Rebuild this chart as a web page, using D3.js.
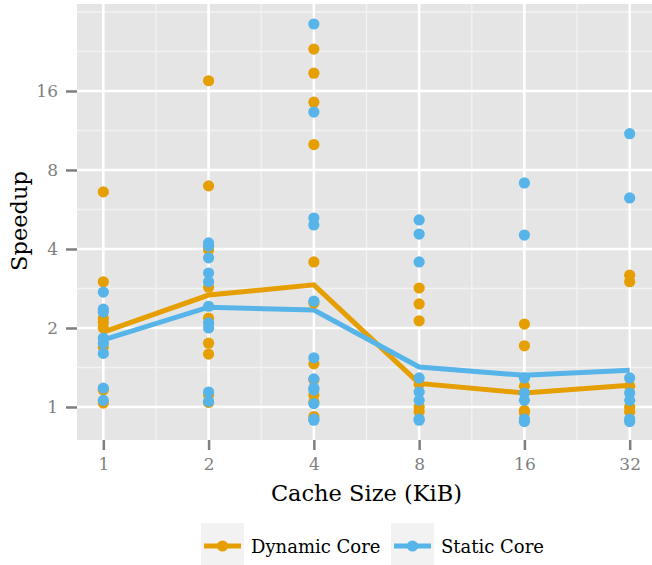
<!DOCTYPE html>
<html>
<head>
<meta charset="utf-8">
<script src="https://cdn.jsdelivr.net/npm/d3@7"></script>
<style>
  body { margin: 0; background: #fff; }
  svg text { font-family: "DejaVu Serif", "Liberation Serif", "DejaVu Sans", sans-serif !important; }
</style>
</head>
<body>
<div id="chart"></div>
<script>
// cache sizes (KiB) on the x axis
var cacheSizes = [1, 2, 4, 8, 16, 32];
var yTicks = [1, 2, 4, 8, 16];

// per-benchmark speedups, one list per cache size
var dynamicSpeedup = [
  [6.6, 3.0, 2.18, 2.1, 2.0, 1.69, 1.16, 1.035],
  [17.5, 6.96, 3.97, 2.86, 2.18, 1.75, 1.59, 1.11, 1.04],
  [23.1, 18.7, 14.5, 10.0, 3.57, 2.49, 1.46, 1.27, 1.11, 1.045, 0.92],
  [2.84, 2.47, 2.13, 1.22, 1.0, 0.96],
  [2.07, 1.71, 1.2, 0.97, 0.95],
  [3.18, 3.0, 1.2, 1.0, 0.96]
];
var staticSpeedup = [
  [2.74, 2.36, 2.3, 1.83, 1.75, 1.6, 1.18, 1.06],
  [4.22, 4.1, 3.7, 3.24, 3.0, 2.42, 2.09, 2.0, 1.14, 1.05],
  [28.8, 13.3, 5.25, 4.94, 2.53, 1.54, 1.28, 1.18, 1.16, 1.03, 0.9, 0.89],
  [5.16, 4.56, 3.57, 1.29, 1.14, 1.06, 0.9, 0.89],
  [7.14, 4.52, 1.29, 1.13, 1.06, 0.9, 0.88],
  [11.0, 6.26, 1.29, 1.13, 1.06, 0.9, 0.88]
];

// average lines
var dynamicMean = [1.93, 2.67, 2.92, 1.23, 1.13, 1.21];
var staticMean = [1.8, 2.4, 2.34, 1.42, 1.32, 1.38];

var seriesNames = ["Dynamic Core", "Static Core"];
var colours = ["#E69F00", "#56B4E9"];

var W = 652, H = 565;
var panel = {left: 77, top: 4, right: 656, bottom: 440};

var svg = d3.select("#chart").append("svg")
    .attr("width", W)
    .attr("height", H);

var x = d3.scaleLog().base(2)
    .domain([Math.pow(2, -0.25), Math.pow(2, 5.25)])
    .range([panel.left, panel.right]);

var y = d3.scaleLog().base(2)
    .domain([Math.pow(2, -0.418), Math.pow(2, 5.101)])
    .range([panel.bottom, panel.top]);

/***** panel background + grid ******/
svg.append("rect")
   .attr("x", panel.left).attr("y", panel.top)
   .attr("width", panel.right - panel.left)
   .attr("height", panel.bottom - panel.top)
   .attr("fill", "#E5E5E5");

var xMinor = [0.5, 1.5, 2.5, 3.5, 4.5].map(function(e) { return Math.pow(2, e); });
var yMinor = [0.5, 1.5, 2.5, 3.5, 4.5, 5].map(function(e) { return Math.pow(2, e); });

var grid = svg.append("g");
grid.selectAll(".xminor").data(xMinor).enter().append("line")
    .attr("x1", x).attr("x2", x)
    .attr("y1", panel.top).attr("y2", panel.bottom)
    .attr("stroke", "#F2F2F2").attr("stroke-width", 1.3);
grid.selectAll(".yminor").data(yMinor).enter().append("line")
    .attr("y1", y).attr("y2", y)
    .attr("x1", panel.left).attr("x2", panel.right)
    .attr("stroke", "#F2F2F2").attr("stroke-width", 1.3);
grid.selectAll(".xmajor").data(cacheSizes).enter().append("line")
    .attr("x1", x).attr("x2", x)
    .attr("y1", panel.top).attr("y2", panel.bottom)
    .attr("stroke", "#fff").attr("stroke-width", 2.6);
grid.selectAll(".ymajor").data(yTicks).enter().append("line")
    .attr("y1", y).attr("y2", y)
    .attr("x1", panel.left).attr("x2", panel.right)
    .attr("stroke", "#fff").attr("stroke-width", 2.6);

/***** axes ******/
var xAxis = svg.append("g")
    .attr("transform", "translate(0," + panel.bottom + ")")
    .call(d3.axisBottom(x).tickValues(cacheSizes).tickFormat(d3.format("d"))
            .tickSize(10).tickPadding(8));
var yAxis = svg.append("g")
    .attr("transform", "translate(" + panel.left + ",0)")
    .call(d3.axisLeft(y).tickValues(yTicks).tickFormat(d3.format("d"))
            .tickSize(11).tickPadding(8));

[xAxis, yAxis].forEach(function(a) {
  a.attr("font-family", null);
  a.select(".domain").remove();
  a.selectAll(".tick line").attr("stroke", "#7F7F7F").attr("stroke-width", 2.5);
  a.selectAll(".tick text")
   .attr("fill", "#7F7F7F")
   .style("font-size", "17px");
});

svg.append("text")
   .attr("x", (panel.left + panel.right) / 2)
   .attr("y", 501)
   .attr("text-anchor", "middle")
   .style("font-size", "22.5px")
   .attr("fill", "#000")
   .text("Cache Size (KiB)");

svg.append("text")
   .attr("transform", "translate(27,221) rotate(-90)")
   .attr("text-anchor", "middle")
   .style("font-size", "22.5px")
   .attr("fill", "#000")
   .text("Speedup");

/***** mean lines ******/
var line = d3.line()
    .x(function(d, i) { return x(cacheSizes[i]); })
    .y(function(d) { return y(d); });

var means = [dynamicMean, staticMean];
svg.selectAll(".meanline").data(means).enter().append("path")
   .attr("class", "meanline")
   .attr("d", line)
   .attr("fill", "none")
   .attr("stroke", function(d, i) { return colours[i]; })
   .attr("stroke-width", 5);

/***** points ******/
function flatten(arr, s) {
  var out = [];
  arr.forEach(function(vals, i) {
    vals.forEach(function(v) { out.push({size: cacheSizes[i], v: v, s: s}); });
  });
  return out;
}
var pts = flatten(dynamicSpeedup, 0).concat(flatten(staticSpeedup, 1));

svg.selectAll(".pt").data(pts).enter().append("circle")
   .attr("class", "pt")
   .attr("cx", function(d) { return x(d.size); })
   .attr("cy", function(d) { return y(d.v); })
   .attr("r", 5.6)
   .attr("fill", function(d) { return colours[d.s]; });

/***** legend ******/
var legend = svg.append("g").attr("transform", "translate(0,523)");
var keyX = [201, 391];
var lg = legend.selectAll(".key").data(seriesNames).enter().append("g")
    .attr("transform", function(d, i) { return "translate(" + keyX[i] + ",0)"; });

lg.append("rect")
  .attr("width", 43).attr("height", 43)
  .attr("fill", "#F2F2F2");
lg.append("line")
  .attr("x1", 3).attr("x2", 40)
  .attr("y1", 23).attr("y2", 23)
  .attr("stroke", function(d, i) { return colours[i]; })
  .attr("stroke-width", 5);
lg.append("circle")
  .attr("cx", 21.5).attr("cy", 23).attr("r", 5.6)
  .attr("fill", function(d, i) { return colours[i]; });
lg.append("text")
  .attr("x", 50).attr("y", 30)
  .style("font-size", "18px")
  .attr("fill", "#000")
  .text(function(d) { return d; });
</script>
</body>
</html>
